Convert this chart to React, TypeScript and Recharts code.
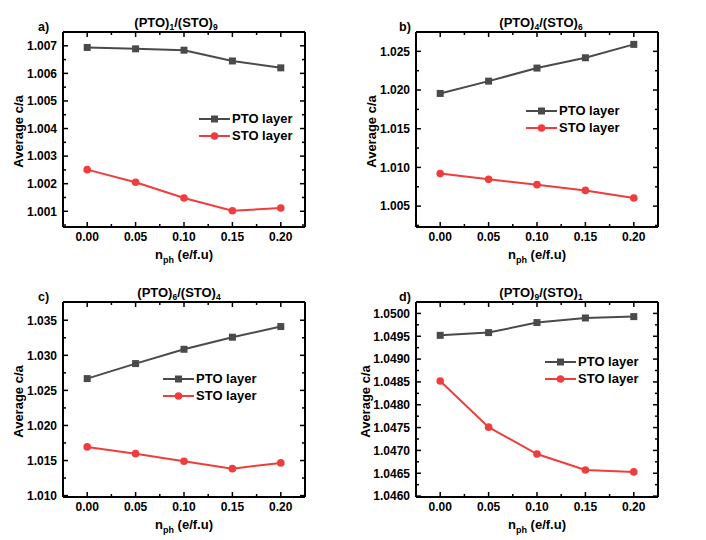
import React from 'react';
import { LineChart, Line, XAxis, YAxis, Legend } from 'recharts';

const FONT = '"Liberation Sans", Arial, Helvetica, sans-serif';
const W = 353;
const H = 270;
const PL = 63;
const PR = 305;
const PT = 32;
const PB = 227;

const PTO_COLOR = '#4a4a4a';
const STO_COLOR = '#f03c3c';

// x categories
const xValues = [0, 0.05, 0.1, 0.15, 0.2];
const xMajorTicks = [0, 0.05, 0.1, 0.15, 0.2];
const xMinorTicks = [0.025, 0.075, 0.125, 0.175];
const xTickLabels = ['0.00', '0.05', '0.10', '0.15', '0.20'];

// panel a) (PTO)1/(STO)9
const ptoA = [1.00694, 1.00689, 1.00684, 1.00645, 1.0062];
const stoA = [1.00251, 1.00205, 1.00148, 1.00102, 1.00112];
const yMajorA = [1.001, 1.002, 1.003, 1.004, 1.005, 1.006, 1.007];
const yMinorA = [1.0005, 1.0015, 1.0025, 1.0035, 1.0045, 1.0055, 1.0065];
const yLabelsA = ['1.001', '1.002', '1.003', '1.004', '1.005', '1.006', '1.007'];

// panel b) (PTO)4/(STO)6
const ptoB = [1.01956, 1.02115, 1.02284, 1.02417, 1.0259];
const stoB = [1.0092, 1.00846, 1.00777, 1.00703, 1.00604];
const yMajorB = [1.005, 1.01, 1.015, 1.02, 1.025];
const yMinorB = [1.0025, 1.0075, 1.0125, 1.0175, 1.0225];
const yLabelsB = ['1.005', '1.010', '1.015', '1.020', '1.025'];

// panel c) (PTO)6/(STO)4
const ptoC = [1.02668, 1.02882, 1.03086, 1.03258, 1.0341];
const stoC = [1.01694, 1.01598, 1.01489, 1.01384, 1.01466];
const yMajorC = [1.01, 1.015, 1.02, 1.025, 1.03, 1.035];
const yMinorC = [1.0125, 1.0175, 1.0225, 1.0275, 1.0325];
const yLabelsC = ['1.010', '1.015', '1.020', '1.025', '1.030', '1.035'];

// panel d) (PTO)9/(STO)1
const ptoD = [1.04952, 1.04958, 1.0498, 1.0499, 1.04993];
const stoD = [1.04852, 1.04751, 1.04692, 1.04657, 1.04653];
const yMajorD = [1.046, 1.0465, 1.047, 1.0475, 1.048, 1.0485, 1.049, 1.0495, 1.05];
const yMinorD = [1.04625, 1.04675, 1.04725, 1.04775, 1.04825, 1.04875, 1.04925, 1.04975];
const yLabelsD = ['1.0460', '1.0465', '1.0470', '1.0475', '1.0480', '1.0485', '1.0490', '1.0495', '1.0500'];

const X_DOMAIN: [number, number] = [-0.025, 0.225];

type Panel = {
  key: string;
  letter: string;
  pa: string;
  pb: string;
  left: number;
  top: number;
  pto: number[];
  sto: number[];
  yDomain: [number, number];
  yMajor: number[];
  yMinor: number[];
  yLabels: string[];
  letterX: number;
  titleX: number;
  yLabelX: number;
  legendX: number;
  legendY: number;
};

const panels: Panel[] = [
  { key: 'a', letter: 'a)', pa: '1', pb: '9', left: 0, top: 0, pto: ptoA, sto: stoA, yDomain: [1.00043, 1.0075], yMajor: yMajorA, yMinor: yMinorA, yLabels: yLabelsA, letterX: 38, titleX: 176, yLabelX: 18, legendX: 199, legendY: 111 },
  { key: 'b', letter: 'b)', pa: '4', pb: '6', left: 353, top: 0, pto: ptoB, sto: stoB, yDomain: [1.0023, 1.0275], yMajor: yMajorB, yMinor: yMinorB, yLabels: yLabelsB, letterX: 46, titleX: 188, yLabelX: 18, legendX: 173, legendY: 103 },
  { key: 'c', letter: 'c)', pa: '6', pb: '4', left: 0, top: 270, pto: ptoC, sto: stoC, yDomain: [1.0098, 1.0376], yMajor: yMajorC, yMinor: yMinorC, yLabels: yLabelsC, letterX: 38, titleX: 179, yLabelX: 18, legendX: 163, legendY: 101 },
  { key: 'd', letter: 'd)', pa: '9', pb: '1', left: 353, top: 270, pto: ptoD, sto: stoD, yDomain: [1.04598, 1.05025], yMajor: yMajorD, yMinor: yMinorD, yLabels: yLabelsD, letterX: 46, titleX: 188, yLabelX: 12, legendX: 192, legendY: 84 },
];

const isIn = (arr: number[], v: number) => arr.findIndex((a) => Math.abs(a - v) < 1e-9);

const SquareDot = (props: any) => {
  const { cx, cy } = props;
  if (cx == null || cy == null) return null;
  return <rect x={cx - 3.5} y={cy - 3.5} width={7} height={7} fill={PTO_COLOR} />;
};

const CircleDot = (props: any) => {
  const { cx, cy } = props;
  if (cx == null || cy == null) return null;
  return <circle cx={cx} cy={cy} r={3.8} fill={STO_COLOR} />;
};

const textStyle = { fontFamily: FONT, fontWeight: 700 as const };

function makeBottomTick(majors: number[], labels: string[]) {
  return (props: any) => {
    const { x, payload } = props;
    const idx = isIn(majors, payload.value);
    const major = idx >= 0;
    return (
      <g>
        <line x1={x} x2={x} y1={PB} y2={PB - (major ? 5 : 3)} stroke="#000" strokeWidth={1.5} />
        {major && (
          <text x={x} y={PB + 14} textAnchor="middle" fontSize={12} fill="#000" style={textStyle}>
            {labels[idx]}
          </text>
        )}
      </g>
    );
  };
}

function makeTopTick(majors: number[]) {
  return (props: any) => {
    const { x, payload } = props;
    const major = isIn(majors, payload.value) >= 0;
    return <line x1={x} x2={x} y1={PT} y2={PT + (major ? 5 : 3)} stroke="#000" strokeWidth={1.5} />;
  };
}

function makeLeftTick(majors: number[], labels: string[]) {
  return (props: any) => {
    const { y, payload } = props;
    const idx = isIn(majors, payload.value);
    const major = idx >= 0;
    return (
      <g>
        <line x1={PL} x2={PL + (major ? 5 : 3)} y1={y} y2={y} stroke="#000" strokeWidth={1.5} />
        {major && (
          <text x={PL - 6} y={y + 4.3} textAnchor="end" fontSize={12} fill="#000" style={textStyle}>
            {labels[idx]}
          </text>
        )}
      </g>
    );
  };
}

function makeRightTick(majors: number[]) {
  return (props: any) => {
    const { y, payload } = props;
    const major = isIn(majors, payload.value) >= 0;
    return <line x1={PR} x2={PR - (major ? 5 : 3)} y1={y} y2={y} stroke="#000" strokeWidth={1.5} />;
  };
}

const TitleLabel = (props: any) => {
  const { letter, pa, pb, lx, tx } = props;
  return (
    <g>
      <text x={lx} y={31} fontSize={12.5} fill="#000" style={textStyle}>
        {letter}
      </text>
      <text x={tx} y={27} textAnchor="middle" fontSize={13} fill="#000" style={textStyle}>
        <tspan>(PTO)</tspan>
        <tspan dy={3} fontSize={8.5}>{pa}</tspan>
        <tspan dy={-3}>/(STO)</tspan>
        <tspan dy={3} fontSize={8.5}>{pb}</tspan>
      </text>
    </g>
  );
};

const XLabel = () => (
  <text x={(PL + PR) / 2} y={259} textAnchor="middle" fontSize={13} fill="#000" style={textStyle}>
    <tspan>n</tspan>
    <tspan dy={4} fontSize={9}>ph</tspan>
    <tspan dy={-4}> (e/f.u)</tspan>
  </text>
);

const YLabel = (props: any) => {
  const { px } = props;
  const cy = (PT + PB) / 2 + 2;
  return (
    <text
      x={px}
      y={cy}
      textAnchor="middle"
      dominantBaseline="central"
      fontSize={13}
      fill="#000"
      style={textStyle}
      transform={`rotate(-90 ${px} ${cy})`}
    >
      Average c/a
    </text>
  );
};

const LegendBox = () => {
  const rows = [
    { name: 'PTO layer', color: PTO_COLOR, square: true },
    { name: 'STO layer', color: STO_COLOR, square: false },
  ];
  return (
    <div style={{ fontFamily: FONT, fontWeight: 700, fontSize: 13, color: '#000' }}>
      {rows.map((r) => (
        <div key={r.name} style={{ display: 'flex', alignItems: 'center', height: 16.5, whiteSpace: 'nowrap' }}>
          <svg width={31} height={12} style={{ display: 'block' }}>
            <line x1={0} x2={31} y1={6} y2={6} stroke={r.color} strokeWidth={2} />
            {r.square ? (
              <rect x={12} y={2.5} width={7} height={7} fill={r.color} />
            ) : (
              <circle cx={15.5} cy={6} r={3.8} fill={r.color} />
            )}
          </svg>
          <span style={{ marginLeft: 2, lineHeight: '16px' }}>{r.name}</span>
        </div>
      ))}
    </div>
  );
};

const PanelChart = ({ p }: { p: Panel }) => {
  const data = xValues.map((x, i) => ({ x, pto: p.pto[i], sto: p.sto[i] }));
  const xTicks = [...xMajorTicks, ...xMinorTicks].sort((a, b) => a - b);
  const yTicks = [...p.yMajor, ...p.yMinor].sort((a, b) => a - b);
  return (
    <LineChart width={W} height={H} data={data} margin={{ top: PT - 1, right: W - PR - 1, bottom: 13, left: 0 }}>
      <XAxis
        xAxisId="bottom"
        dataKey="x"
        type="number"
        domain={X_DOMAIN}
        allowDataOverflow
        ticks={xTicks}
        interval={0}
        height={H - 13 - PB}
        axisLine={{ stroke: '#000', strokeWidth: 2 }}
        tickLine={false}
        tick={makeBottomTick(xMajorTicks, xTickLabels)}
        label={<XLabel />}
      />
      <XAxis
        xAxisId="top"
        orientation="top"
        dataKey="x"
        type="number"
        domain={X_DOMAIN}
        allowDataOverflow
        ticks={xTicks}
        interval={0}
        height={1}
        axisLine={{ stroke: '#000', strokeWidth: 2 }}
        tickLine={false}
        tick={makeTopTick(xMajorTicks)}
        label={<TitleLabel letter={p.letter} pa={p.pa} pb={p.pb} lx={p.letterX} tx={p.titleX} />}
      />
      <YAxis
        yAxisId="left"
        type="number"
        domain={p.yDomain}
        allowDataOverflow
        ticks={yTicks}
        interval={0}
        width={PL}
        axisLine={{ stroke: '#000', strokeWidth: 2 }}
        tickLine={false}
        tick={makeLeftTick(p.yMajor, p.yLabels)}
        label={<YLabel px={p.yLabelX} />}
      />
      <YAxis
        yAxisId="right"
        orientation="right"
        type="number"
        domain={p.yDomain}
        allowDataOverflow
        ticks={yTicks}
        interval={0}
        width={1}
        axisLine={{ stroke: '#000', strokeWidth: 2 }}
        tickLine={false}
        tick={makeRightTick(p.yMajor)}
      />
      <Line
        xAxisId="bottom"
        yAxisId="left"
        dataKey="pto"
        name="PTO layer"
        stroke={PTO_COLOR}
        strokeWidth={2}
        dot={<SquareDot />}
        activeDot={false}
        isAnimationActive={false}
      />
      <Line
        xAxisId="bottom"
        yAxisId="left"
        dataKey="sto"
        name="STO layer"
        stroke={STO_COLOR}
        strokeWidth={2}
        dot={<CircleDot />}
        activeDot={false}
        isAnimationActive={false}
      />
      <Legend
        layout="horizontal"
        verticalAlign="middle"
        align="center"
        content={<LegendBox />}
        wrapperStyle={{ position: 'absolute', left: p.legendX, top: p.legendY, width: 'auto', height: 'auto' }}
      />
    </LineChart>
  );
};

export default function App() {
  return (
    <div style={{ position: 'absolute', left: 0, top: 0, width: 706, height: 540, background: '#fff', overflow: 'hidden' }}>
      {panels.map((p) => (
        <div key={p.key} style={{ position: 'absolute', left: p.left, top: p.top, width: W, height: H }}>
          <PanelChart p={p} />
        </div>
      ))}
    </div>
  );
}
